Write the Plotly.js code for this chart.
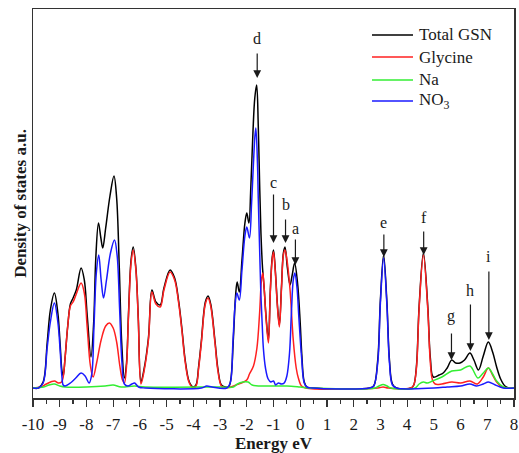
<!DOCTYPE html>
<html>
<head>
<meta charset="utf-8">
<script src="https://cdn.plot.ly/plotly-3.0.1.min.js"></script>
<style>
  html, body { margin: 0; padding: 0; background: #fff; }
  #chart { width: 519px; height: 453px; }
</style>
</head>
<body>
<div id="chart"></div>
<script>
// ---------- Data (arbitrary units) ----------
const seriesNames = ["Total GSN", "Glycine", "Na", "NO<sub>3</sub>"];

const totalE = [-10.0,-9.8,-9.62,-9.47,-9.35,-9.2,-9.07,-8.98,-8.92,-8.87,-8.8,-8.7,-8.6,-8.5,-8.38,-8.2,-8.08,-7.97,-7.83,-7.73,-7.65,-7.55,-7.46,-7.39,-7.28,-7.12,-6.97,-6.87,-6.77,-6.68,-6.58,-6.5,-6.43,-6.33,-6.25,-6.15,-6.06,-5.96,-5.85,-5.68,-5.55,-5.4,-5.24,-5.1,-4.87,-4.7,-4.55,-4.43,-4.3,-4.15,-4.0,-3.9,-3.8,-3.7,-3.55,-3.45,-3.35,-3.19,-3.08,-2.95,-2.8,-2.68,-2.6,-2.5,-2.42,-2.36,-2.28,-2.18,-2.07,-2.0,-1.92,-1.85,-1.77,-1.7,-1.63,-1.57,-1.52,-1.47,-1.41,-1.35,-1.28,-1.19,-1.12,-1.05,-1.0,-0.93,-0.85,-0.78,-0.7,-0.63,-0.57,-0.48,-0.38,-0.3,-0.21,-0.1,0.0,0.06,0.15,0.25,0.45,2.6,2.75,2.9,3.0,3.12,3.24,3.34,3.45,3.6,4.15,4.25,4.35,4.45,4.61,4.77,4.87,4.98,5.2,5.35,5.5,5.67,5.82,5.98,6.15,6.35,6.5,6.67,6.85,7.04,7.2,7.35,7.5,7.66,7.8,8.0];
const totalDOS = [0,0,6,45,78,95,75,42,18,12,30,62,84,90,98,120,108,72,31,65,130,165,150,140,160,192,212,190,120,45,10,25,72,128,141,120,70,6,18,50,98,86,83,100,118,110,87,60,27,6,1,3,22,47,86,92,84,47,19,3,1,1,8,50,92,106,96,128,165,175,165,200,255,290,303,262,205,155,120,100,72,48,97,130,138,117,82,63,102,135,141,120,103,113,125,105,65,33,6,1,0,0,2,28,88,133,88,28,4,0,0,3,22,82,135,83,30,11,13,15,20,28,25,25,28,35,28,18,32,46,36,21,9,2,0,0];

const glyE = [-10.0,-9.7,-9.5,-9.2,-9.05,-8.93,-8.87,-8.8,-8.7,-8.6,-8.5,-8.38,-8.2,-8.08,-7.97,-7.85,-7.75,-7.62,-7.45,-7.28,-7.14,-7.0,-6.87,-6.75,-6.65,-6.58,-6.5,-6.43,-6.33,-6.25,-6.15,-6.06,-5.96,-5.85,-5.68,-5.55,-5.4,-5.24,-5.1,-4.87,-4.7,-4.55,-4.43,-4.3,-4.15,-4.0,-3.9,-3.8,-3.7,-3.55,-3.45,-3.35,-3.19,-3.08,-2.95,-2.8,-2.6,-2.4,-2.2,-2.0,-1.9,-1.75,-1.62,-1.52,-1.45,-1.4,-1.35,-1.28,-1.19,-1.12,-1.05,-1.0,-0.93,-0.85,-0.78,-0.7,-0.63,-0.57,-0.48,-0.38,-0.26,-0.15,-0.07,0.05,0.2,2.9,3.1,3.3,4.15,4.25,4.35,4.45,4.61,4.77,4.87,4.95,5.05,5.3,5.67,6.0,6.35,6.63,6.85,7.04,7.2,7.35,7.55,7.8,8.0];
const glyDOS = [0,1,4,7,5,6,11,30,62,82,86,94,105,95,60,22,11,25,48,62,65,60,46,22,8,5,22,69,125,138,118,68,4,16,48,96,84,81,98,116,108,85,58,25,5,0,2,20,45,84,90,82,45,17,2,0,1,3,5,8,14,22,40,75,108,115,100,70,45,95,128,136,115,80,61,100,133,138,125,98,48,20,10,2,0,0,1,0,0,3,20,80,133,80,25,8,4,4,6,5,7,4,11,20,13,6,1,0,0];

const naE = [-10.0,-9.6,-9.4,-9.2,-9.0,-8.8,-8.0,-7.3,-7.0,-6.7,-6.2,-5.8,-3.0,-2.5,-2.35,-2.15,-1.95,-1.8,-1.5,-1.0,-0.5,0.0,0.4,2.8,2.95,3.1,3.25,3.4,4.3,4.45,4.61,4.75,4.95,5.3,5.67,6.0,6.35,6.65,6.85,7.04,7.2,7.35,7.6,7.8,8.0];
const naDOS = [0,1,3,4,2,1,1,2,3,1,2,1,1,1,4,6,6,3,2,2,2,1,0,0,2,3.5,2,0,0,4,6,5,7,11,17,18,22,10,15,20,14,7,1,0,0];

const no3E = [-10.0,-9.8,-9.62,-9.47,-9.35,-9.2,-9.07,-8.98,-8.92,-8.87,-8.8,-8.6,-8.4,-8.2,-8.05,-7.9,-7.8,-7.72,-7.63,-7.54,-7.45,-7.36,-7.25,-7.1,-6.95,-6.85,-6.76,-6.67,-6.58,-6.45,-6.3,-6.2,-6.05,-5.8,-3.7,-3.5,-3.3,-2.75,-2.62,-2.52,-2.44,-2.37,-2.28,-2.18,-2.07,-2.0,-1.9,-1.82,-1.75,-1.7,-1.66,-1.6,-1.57,-1.52,-1.47,-1.42,-1.38,-1.3,-1.2,-1.1,-1.0,-0.92,-0.82,-0.7,-0.6,-0.5,-0.4,-0.33,-0.26,-0.2,-0.12,-0.05,0.05,0.15,0.25,0.45,2.6,2.75,2.9,3.0,3.12,3.24,3.34,3.45,3.6,5.0,5.5,6.0,6.35,6.6,6.85,7.04,7.3,7.6,8.0];
const no3DOS = [0,0,5,40,66,85,66,36,12,3,2,5,10,15,12,5,14,60,115,133,108,90,108,135,148,132,80,25,4,2,4,5,1,0,0,2,1,0,5,45,82,95,88,118,152,161,150,185,225,250,260,225,190,140,92,62,40,20,9,6,7,3,5,4,5,12,35,75,108,115,100,70,31,5,1,0,0,2,25,85,130,85,25,3,0,0,1,2,4,2,4,6,3,0,0];

const tickValues = [-10,-9,-8,-7,-6,-5,-4,-3,-2,-1,0,1,2,3,4,5,6,7,8];
const tickLabels = ["-10","-9","-8","-7","-6","-5","-4","-3","-2","-1","0","1","2","3","4","5","6","7","8"];
const minorTickValues = [-9.5,-8.5,-7.5,-6.5,-5.5,-4.5,-3.5,-2.5,-1.5,-0.5,0.5,1.5,2.5,3.5,4.5,5.5,6.5,7.5];

// Peak markers: label, energy, arrow tail/tip heights and label height
const peakLabels = ["d","c","b","a","e","f","g","h","i"];
const peakE      = [-1.61,-1.0,-0.55,-0.18,3.13,4.62,5.66,6.37,7.06];
const arrowTail  = [336,195,170,150,155,158,56,85,118];
const arrowTip   = [310,145,145,123,131,133,28,37,48];
const labelY     = [350,206,184,160,166,171,72,98,132];

// ---------- Plot ----------
const FONT = "Liberation Serif, Times New Roman, serif";
const colors = ["#000000", "#ff2020", "#33ee33", "#1a1aff"];
const xs = [totalE, glyE, naE, no3E];
const ys = [totalDOS, glyDOS, naDOS, no3DOS];

const traces = xs.map((x, i) => ({
  type: "scatter", mode: "lines", x: x, y: ys[i], name: seriesNames[i],
  line: {color: colors[i], width: 1.5, shape: "spline", smoothing: 1},
  showlegend: false, hoverinfo: "x+y+name"
}));

const annotations = [];
peakLabels.forEach((lab, i) => {
  annotations.push({
    x: peakE[i], y: arrowTip[i], xref: "x", yref: "y",
    ax: peakE[i], ay: arrowTail[i], axref: "x", ayref: "y",
    text: "", showarrow: true, arrowhead: 2, arrowsize: 1.3, arrowwidth: 1.2,
    arrowcolor: "#1a1a1a", standoff: 0, startstandoff: 0
  });
  annotations.push({
    x: peakE[i], y: labelY[i], xref: "x", yref: "y", text: lab, showarrow: false,
    font: {family: FONT, size: 16, color: "#1a1a1a"}, xanchor: "center", yanchor: "middle"
  });
});

// legend (drawn manually to match the reference swatches)
const shapes = [];
const legY = [0.9332, 0.8766, 0.8175, 0.7635];
seriesNames.forEach((nm, i) => {
  shapes.push({type: "line", xref: "paper", yref: "paper", x0: 0.7048, x1: 0.790,
    y0: legY[i], y1: legY[i], line: {color: colors[i], width: 1.5}});
  annotations.push({xref: "paper", yref: "paper", x: 0.7985, y: legY[i], text: nm,
    showarrow: false, xanchor: "left", yanchor: "middle",
    font: {family: FONT, size: 17, color: "#1a1a1a"}});
});

const layout = {
  width: 519, height: 453,
  margin: {l: 33, r: 5, t: 9, b: 55, pad: 0},
  paper_bgcolor: "#ffffff", plot_bgcolor: "#ffffff",
  showlegend: false,
  font: {family: FONT, size: 17, color: "#1a1a1a"},
  xaxis: {
    range: [-10, 8], tickmode: "array", tickvals: tickValues, ticktext: tickLabels,
    ticks: "outside", ticklen: 7, tickwidth: 1.2, tickcolor: "#333",
    ticklabelstandoff: 3,
    minor: {tickmode: "array", tickvals: minorTickValues, ticks: "outside", ticklen: 4, tickwidth: 1.2, tickcolor: "#333"},
    showline: true, mirror: true, linecolor: "#333", linewidth: 1.5,
    showgrid: false, zeroline: false, automargin: false,
    tickfont: {family: FONT, size: 17, color: "#1a1a1a"},
    title: {text: "<b>Energy eV</b>", font: {family: FONT, size: 17, color: "#1a1a1a"}, standoff: 6}
  },
  yaxis: {
    range: [-10, 379], showticklabels: false, ticks: "",
    showline: true, mirror: true, linecolor: "#333", linewidth: 1.5,
    showgrid: false, zeroline: false, automargin: false,
    title: {text: "<b>Density of states a.u.</b>", font: {family: FONT, size: 17, color: "#1a1a1a"}, standoff: 0}
  },
  annotations: annotations,
  shapes: shapes
};

Plotly.newPlot("chart", traces, layout, {displayModeBar: false, staticPlot: true});
</script>
</body>
</html>
